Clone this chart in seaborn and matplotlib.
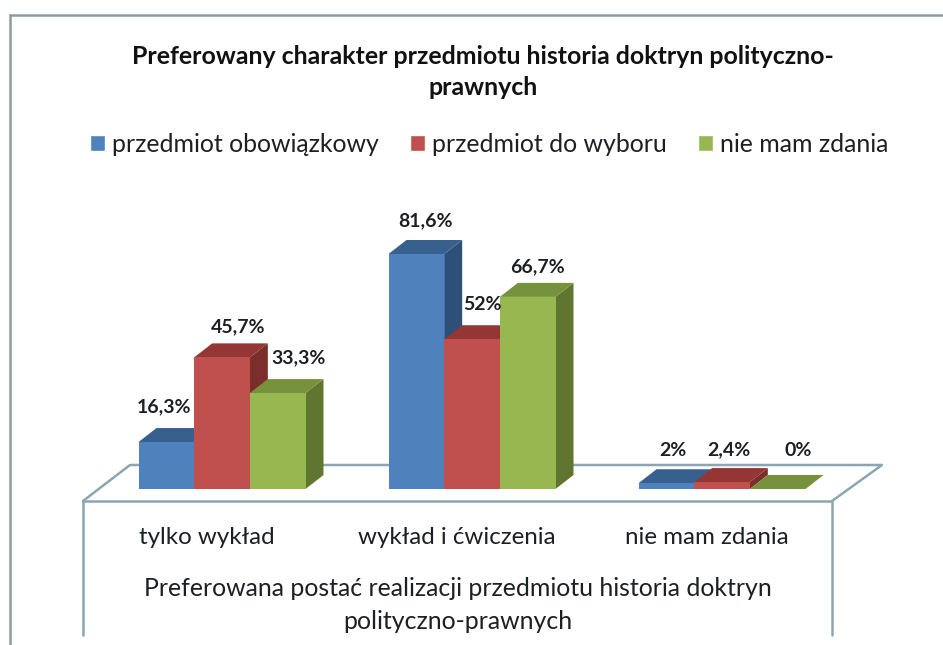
from __future__ import annotations

import matplotlib
matplotlib.use("Agg")
import matplotlib.pyplot as plt
import matplotlib.transforms as mtrans
from matplotlib.lines import Line2D
from matplotlib.patches import Polygon
import pandas as pd
import seaborn as sns

CATEGORIES = ["tylko wykład", "wykład i ćwiczenia", "nie mam zdania"]
SERIES = ["przedmiot obowiązkowy", "przedmiot do wyboru", "nie mam zdania"]
OBOWIAZKOWY = [16.3, 81.6, 2.0]
DO_WYBORU = [45.7, 52.0, 2.4]
BRAK_ZDANIA = [33.3, 66.7, 0.0]
LABELS = [
    ["16,3%", "81,6%", "2%"],
    ["45,7%", "52%", "2,4%"],
    ["33,3%", "66,7%", "0%"],
]
TITLE = "Preferowany charakter przedmiotu historia doktryn polityczno-\nprawnych"
XLABEL = "Preferowana postać realizacji przedmiotu historia doktryn\npolityczno-prawnych"

FRONT = ["#4F81BD", "#C0504D", "#97B850"]
TOP = ["#37608F", "#933634", "#76923C"]
SIDE = ["#2E4F78", "#7C2E2C", "#5F7530"]
FLOOR = "#8BA6B2"
TEXT = "#1c2024"
W, H = 943, 645

# label offsets from the front-face centre/top, in pixels
LABEL_OFFSETS = [
    [(-2, 35), (9, 33), (7, 33)],
    [(16, 31), (10, 35), (7, 32)],
    [(21, 35), (10, 30), (21, 38)],
]


def px(x: float, y: float) -> tuple[float, float]:
    return x / W, 1 - y / H


sns.set_theme(style="white")
plt.rcParams["font.family"] = ["Lato", "DejaVu Sans"]

df = pd.DataFrame({
    "kategoria": CATEGORIES * 3,
    "seria": [s for s in SERIES for _ in CATEGORIES],
    "procent": OBOWIAZKOWY + DO_WYBORU + BRAK_ZDANIA,
})

fig = plt.figure(figsize=(W / 100, H / 100), dpi=100, facecolor="white")
ax = fig.add_axes([97 / W, 1 - 489 / H, 750 / W, 288 / H])
ax.patch.set_alpha(0)

sns.barplot(
    data=df, x="kategoria", y="procent", hue="seria", order=CATEGORIES,
    hue_order=SERIES, palette=FRONT, saturation=1, width=0.668, ax=ax,
)
ax.set_ylim(0, 100)
ax.set_xlim(-0.5, 2.5)
ax.set_ylabel("")
ax.set_yticks([])
sns.despine(ax=ax, left=True, bottom=True)

# extrude the seaborn bars into the Excel style 3D boxes
depth_x = 18 / 250
depth_y = 14 / 2.88
for s, bars in enumerate(ax.containers):
    for c, bar in enumerate(bars):
        x0, x1 = bar.get_x(), bar.get_x() + bar.get_width()
        h = bar.get_height()
        bar.set_zorder(3 + 2 * s)
        bar.set_clip_on(False)
        bar.set_linewidth(0)
        top = Polygon(
            [(x0, h), (x1, h), (x1 + depth_x, h + depth_y), (x0 + depth_x, h + depth_y)],
            fc=TOP[s], lw=0, zorder=2 + 2 * s, clip_on=False,
        )
        side = Polygon(
            [(x1, 0), (x1 + depth_x, depth_y), (x1 + depth_x, h + depth_y), (x1, h)],
            fc=SIDE[s], lw=0, zorder=2 + 2 * s, clip_on=False,
        )
        ax.add_patch(side)
        ax.add_patch(top)
        dx, dy = LABEL_OFFSETS[s][c]
        ax.annotate(
            LABELS[s][c], ((x0 + x1) / 2, h), xytext=(dx * 0.72, dy * 0.72),
            textcoords="offset points", ha="center", va="center",
            fontsize=14, fontweight="bold", color=TEXT, zorder=20,
            annotation_clip=False,
        )

# tick labels sit a little left of the bar groups because of the floor perspective
ax.tick_params(axis="x", length=0, labelsize=17.4, labelcolor=TEXT, pad=0)
shift = mtrans.ScaledTranslation(-15 / 100, -38 / 100, fig.dpi_scale_trans)
for lab in ax.get_xticklabels():
    lab.set_transform(lab.get_transform() + shift)

ax.set_xlabel(XLABEL, fontsize=17.9, color=TEXT, linespacing=1.5)
ax.xaxis.set_label_coords(0.481, -0.307)

handles, labels = ax.get_legend_handles_labels()
ax.legend(
    handles, labels, ncol=3, loc="center left", bbox_to_anchor=px(90, 144),
    bbox_transform=fig.transFigure, frameon=False, fontsize=17.9, labelcolor=TEXT,
    handlelength=0.62, handleheight=0.62, handletextpad=0.25, columnspacing=1.27,
    borderaxespad=0, borderpad=0,
)

fig.text(*px(483, 72), TITLE, ha="center", va="center", fontsize=17.9,
         fontweight="bold", color="#111111", linespacing=1.38)

# chart frame and the floor outline
frame_lines = [
    ([10, 10], [645, 15], "#8E9A9E"),
    ([10, 943], [15, 15], "#8E9A9E"),
    ([83, 83, 832, 832], [635, 501, 501, 635], FLOOR),
    ([83, 130, 882, 832], [501, 465, 465, 501], FLOOR),
]
for xs, ys, color in frame_lines:
    fig.add_artist(Line2D(
        [x / W for x in xs], [1 - y / H for y in ys], color=color, lw=1.8,
        transform=fig.transFigure, zorder=-1,
    ))

fig.savefig("out.png", dpi=100)
